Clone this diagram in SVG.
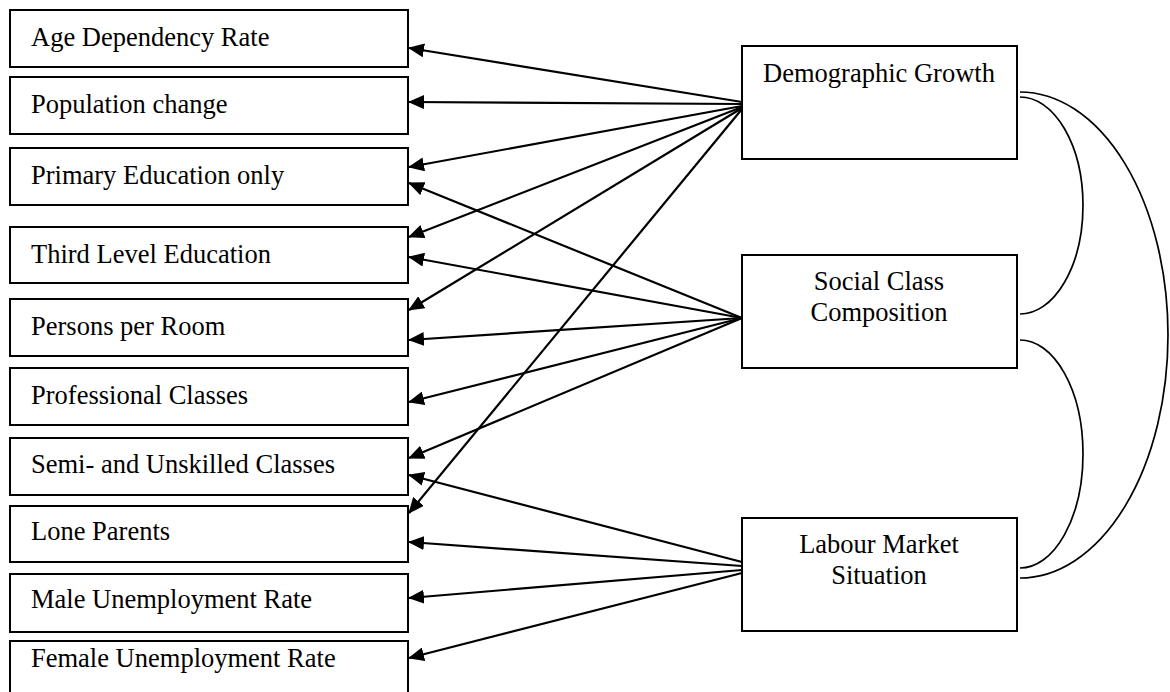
<svg xmlns="http://www.w3.org/2000/svg" width="1170" height="692" viewBox="0 0 1170 692">
<style>
.box{fill:#fff;stroke:#000;stroke-width:2}
.t{font-family:"Liberation Serif","Times New Roman",serif;font-size:26.5px;fill:#000}
.c{text-anchor:middle}
.ln{stroke:#000;stroke-width:2.2;fill:none;marker-end:url(#ah)}
.cv{stroke:#000;stroke-width:1.7;fill:none}
</style>
<defs>
<marker id="ah" viewBox="0 0 16 14" refX="15" refY="7" markerWidth="16" markerHeight="14" markerUnits="userSpaceOnUse" orient="auto">
<path d="M0,0 L16,7 L0,14 z" fill="#000"/>
</marker>
</defs>
<rect width="1170" height="692" fill="#fff"/>
<g id="n-age"><rect class="box" x="10" y="10" width="398" height="57"/><text class="t" x="31" y="46">Age Dependency Rate</text></g>
<g id="n-pop"><rect class="box" x="10" y="77" width="398" height="57"/><text class="t" x="31" y="113">Population change</text></g>
<g id="n-prim"><rect class="box" x="10" y="148" width="398" height="57"/><text class="t" x="31" y="184">Primary Education only</text></g>
<g id="n-third"><rect class="box" x="10" y="227" width="398" height="56"/><text class="t" x="31" y="263">Third Level Education</text></g>
<g id="n-room"><rect class="box" x="10" y="299" width="398" height="57"/><text class="t" x="31" y="335">Persons per Room</text></g>
<g id="n-prof"><rect class="box" x="10" y="368" width="398" height="57"/><text class="t" x="31" y="404">Professional Classes</text></g>
<g id="n-semi"><rect class="box" x="10" y="438" width="398" height="57"/><text class="t" x="31" y="473">Semi- and Unskilled Classes</text></g>
<g id="n-lone"><rect class="box" x="10" y="506" width="398" height="56"/><text class="t" x="31" y="540">Lone Parents</text></g>
<g id="n-male"><rect class="box" x="10" y="574" width="398" height="58"/><text class="t" x="31" y="608">Male Unemployment Rate</text></g>
<g id="n-female"><rect class="box" x="10" y="641" width="398" height="60"/><text class="t" x="31" y="667">Female Unemployment Rate</text></g>
<g id="n-demo"><rect class="box" x="742" y="46" width="275" height="113"/><text class="t c" x="879" y="82">Demographic Growth</text></g>
<g id="n-social"><rect class="box" x="742" y="255" width="275" height="113"/><text class="t c" x="879" y="290">Social Class</text><text class="t c" x="879" y="321">Composition</text></g>
<g id="n-labour"><rect class="box" x="742" y="518" width="275" height="113"/><text class="t c" x="879" y="553">Labour Market</text><text class="t c" x="879" y="584">Situation</text></g>
<g id="connectors">
<line class="ln" x1="742" y1="102" x2="409" y2="48"/>
<line class="ln" x1="742" y1="104" x2="409" y2="102"/>
<line class="ln" x1="742" y1="106" x2="409" y2="167"/>
<line class="ln" x1="742" y1="107" x2="409" y2="237"/>
<line class="ln" x1="742" y1="108" x2="409" y2="310"/>
<line class="ln" x1="742" y1="109" x2="409" y2="513"/>
<line class="ln" x1="742" y1="318" x2="409" y2="183"/>
<line class="ln" x1="742" y1="318" x2="409" y2="257"/>
<line class="ln" x1="742" y1="318" x2="409" y2="340"/>
<line class="ln" x1="742" y1="318" x2="409" y2="402"/>
<line class="ln" x1="742" y1="318" x2="409" y2="458"/>
<line class="ln" x1="742" y1="562" x2="409" y2="475"/>
<line class="ln" x1="742" y1="566" x2="409" y2="542"/>
<line class="ln" x1="742" y1="570" x2="409" y2="598"/>
<line class="ln" x1="742" y1="573" x2="409" y2="658"/>
<path class="cv" d="M1020,97 A63,108.5 0 0 1 1020,314"/>
<path class="cv" d="M1020,340 A63,114 0 0 1 1020,568"/>
<path class="cv" d="M1020,92 A148,243 0 0 1 1020,578"/>
</g>
</svg>
